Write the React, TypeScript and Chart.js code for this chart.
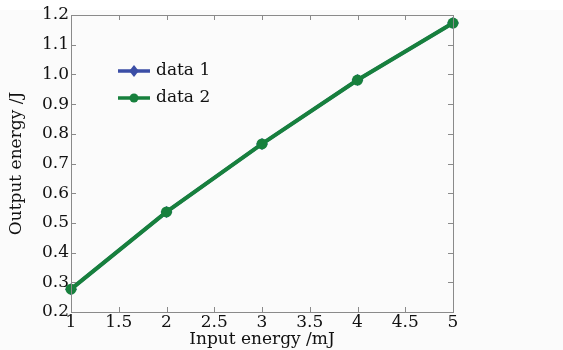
import React, { useEffect, useRef } from "react";
import { Chart, registerables } from "chart.js";

Chart.register(...registerables);

const inputEnergy = [1, 2, 3, 4, 5];
const data1 = [0.277, 0.537, 0.766, 0.981, 1.173];
const data2 = [0.277, 0.537, 0.766, 0.981, 1.173];
const seriesLabels = ["data 1", "data 2"];
const xTitle = "Input energy /mJ";
const yTitle = "Output energy /J";

const FONT = "'DejaVu Serif', serif";
const BLUE = "#3b4ea6";
const GREEN = "#17803d";

const boxPlugin = {
  id: "boxTicks",
  beforeDraw(chart: any) {
    const ctx = chart.ctx;
    ctx.save();
    ctx.fillStyle = "#fbfbfb";
    ctx.fillRect(0, 10, chart.width, chart.height - 10);
    ctx.fillStyle = "#ffffff";
    ctx.fillRect(0, 0, chart.width, 10);
    ctx.restore();
  },
  afterDatasetsDraw(chart: any) {
    const { ctx, chartArea: a, scales } = chart;
    ctx.save();
    ctx.strokeStyle = "#8a8a8a";
    ctx.lineWidth = 1;
    const L = 5;
    ctx.beginPath();
    scales.x.ticks.forEach((t: any) => {
      const px = Math.round(scales.x.getPixelForValue(t.value)) + 0.5;
      ctx.moveTo(px, a.bottom);
      ctx.lineTo(px, a.bottom - L);
      ctx.moveTo(px, a.top);
      ctx.lineTo(px, a.top + L);
    });
    scales.y.ticks.forEach((t: any) => {
      const py = Math.round(scales.y.getPixelForValue(t.value)) + 0.5;
      ctx.moveTo(a.left, py);
      ctx.lineTo(a.left + L, py);
      ctx.moveTo(a.right, py);
      ctx.lineTo(a.right - L, py);
    });
    ctx.stroke();
    ctx.strokeRect(Math.round(a.left) + 0.5, Math.round(a.top) + 0.5, Math.round(a.right - a.left), Math.round(a.bottom - a.top));
    ctx.restore();
  },
  afterDraw(chart: any) {
    const ctx = chart.ctx;
    ctx.save();
    chart.data.datasets.forEach((ds: any, i: number) => {
      const y = 71 + i * 27;
      ctx.strokeStyle = ds.borderColor;
      ctx.lineWidth = 3.5;
      ctx.beginPath();
      ctx.moveTo(118, y);
      ctx.lineTo(150, y);
      ctx.stroke();
      ctx.fillStyle = ds.borderColor;
      ctx.beginPath();
      if (ds.pointStyle === "rectRot") {
        const r = 6;
        ctx.moveTo(134, y - r);
        ctx.lineTo(134 + r * 0.8, y);
        ctx.lineTo(134, y + r);
        ctx.lineTo(134 - r * 0.8, y);
        ctx.closePath();
      } else {
        ctx.arc(134, y, 4.5, 0, Math.PI * 2);
      }
      ctx.fill();
      ctx.fillStyle = "#111";
      ctx.font = `17px ${FONT}`;
      ctx.textBaseline = "middle";
      ctx.textAlign = "left";
      ctx.fillText(ds.label, 156, y);
    });
    ctx.restore();
  },
};

export default function App() {
  const ref = useRef<HTMLCanvasElement>(null);
  useEffect(() => {
    const chart = new Chart(ref.current!, {
      type: "line",
      data: {
        datasets: [
          {
            label: seriesLabels[0],
            data: inputEnergy.map((x, i) => ({ x, y: data1[i] })),
            borderColor: BLUE,
            backgroundColor: BLUE,
            borderWidth: 3.5,
            pointStyle: "rectRot",
            pointRadius: 6,
            pointBorderWidth: 0,
            order: 1,
            clip: false,
          } as any,
          {
            label: seriesLabels[1],
            data: inputEnergy.map((x, i) => ({ x, y: data2[i] })),
            borderColor: GREEN,
            backgroundColor: GREEN,
            borderWidth: 4,
            pointStyle: "circle",
            pointRadius: 5.5,
            pointBorderWidth: 0,
            order: 0,
            clip: false,
          } as any,
        ],
      },
      options: {
        animation: false,
        responsive: false,
        layout: { padding: { left: 0, top: 15, right: 110, bottom: 0 } },
        plugins: { legend: { display: false }, tooltip: { enabled: false } },
        scales: {
          x: {
            type: "linear",
            min: 1,
            max: 5,
            grid: { display: false, drawTicks: false, tickLength: 0 },
            border: { display: false },
            ticks: {
              stepSize: 0.5,
              color: "#111",
              font: { family: FONT, size: 17 },
              padding: 0,
              maxRotation: 0,
              callback: (v: any) => String(Number(v)),
            },
            title: {
              display: true,
              text: xTitle,
              color: "#111",
              font: { family: FONT, size: 17 },
              padding: { top: 0, bottom: 0 },
            },
            afterFit(scale: any) {
              scale.height = 38;
            },
          },
          y: {
            type: "linear",
            min: 0.2,
            max: 1.2,
            grid: { display: false, drawTicks: false, tickLength: 0 },
            border: { display: false },
            ticks: {
              stepSize: 0.1,
              color: "#111",
              font: { family: FONT, size: 17 },
              padding: 2,
              callback: (v: any) => Number(v).toFixed(1),
            },
            title: {
              display: true,
              text: yTitle,
              color: "#111",
              font: { family: FONT, size: 17 },
              padding: { top: 6, bottom: 0 },
            },
            afterFit(scale: any) {
              scale.width = 71;
            },
          },
        },
      } as any,
      plugins: [boxPlugin],
    });
    return () => chart.destroy();
  }, []);
  return (
    <div style={{ position: "absolute", left: 0, top: 0, width: 563, height: 350 }}>
      <canvas ref={ref} width={563} height={350} style={{ width: 563, height: 350 }} />
    </div>
  );
}
